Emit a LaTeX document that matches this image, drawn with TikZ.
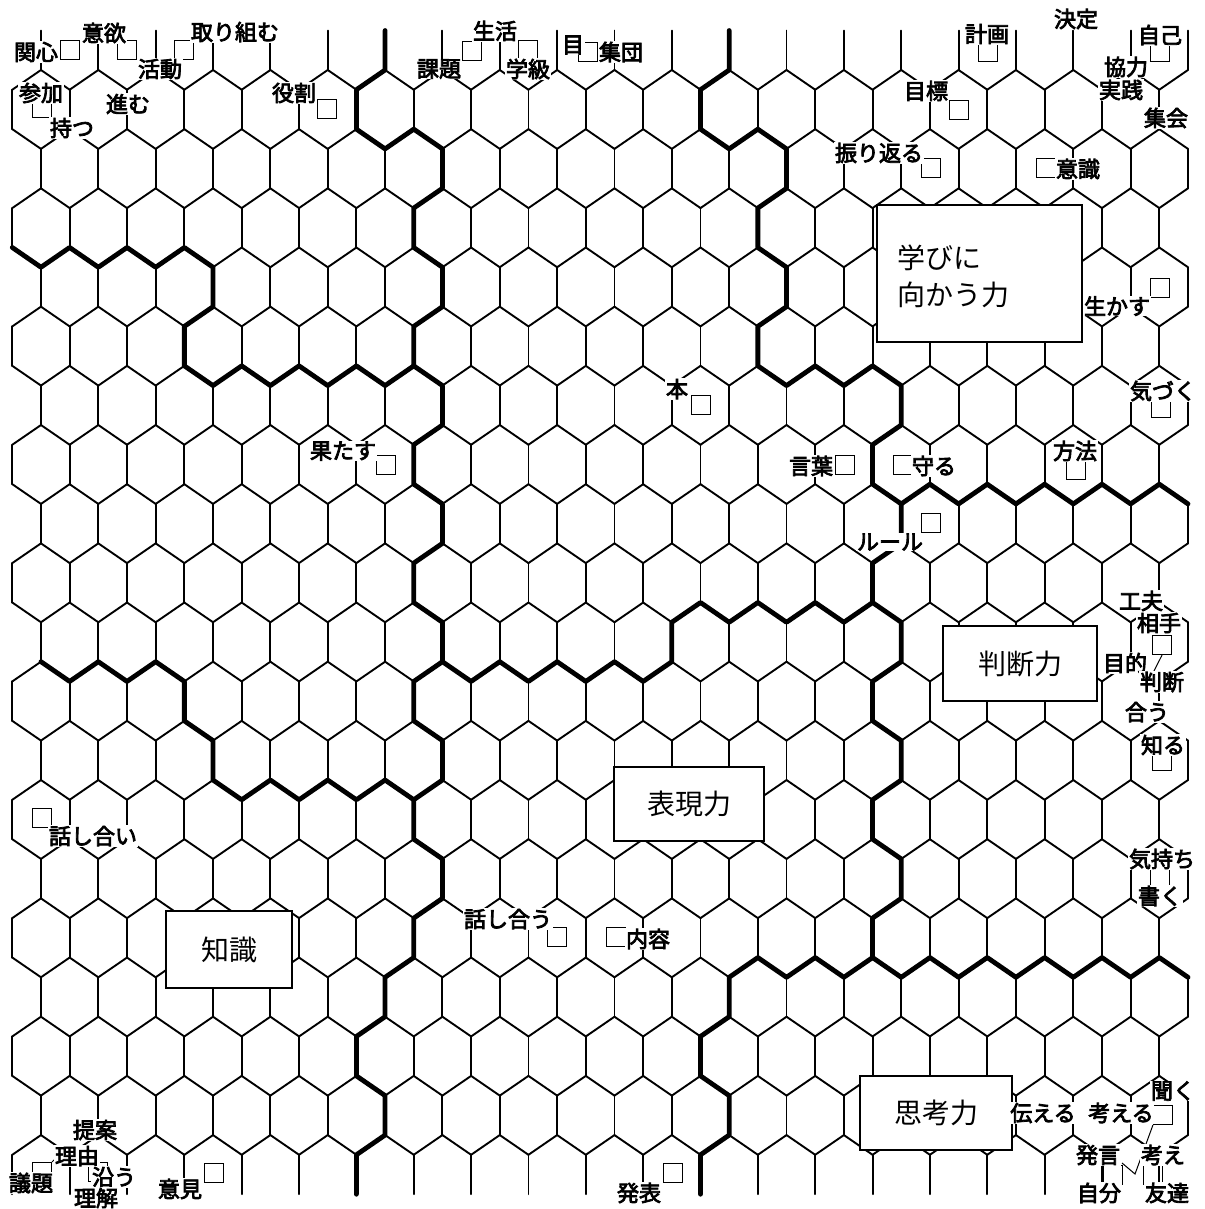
\documentclass[tikz,border=0pt]{standalone}
\usepackage{fontspec}
\usepackage{pdfrender}
\newfontfamily\jp{Noto Sans CJK JP}
\newfontfamily\jpb{Noto Sans CJK JP}[AutoFakeBold=3.5]
\begin{document}
\begin{tikzpicture}[x=0.5pt,y=-0.5pt,
  gridl/.style={line width=0.95pt, line cap=round},
  border/.style={line width=2.4pt, line cap=round, line join=round},
  box/.style={draw, line width=1pt, fill=white, inner sep=0pt},
  boxtext/.style={font=\jp\fontsize{14pt}{18.5pt}\selectfont, inner sep=0pt, align=left},
  lab/.style={font=\jpb\bfseries\fontsize{11pt}{12pt}\selectfont, fill=white, inner sep=0.3pt,
    execute at begin node={\pdfrender{TextRenderingMode=FillStroke,LineWidth=0.45pt}}},
  sq/.style={draw, line width=0.6pt, minimum size=9.5pt, inner sep=0pt},
  lead/.style={line width=0.5pt}]
\path[use as bounding box] (0,0) rectangle (1204,1209);
% lattice vertices
\foreach \r in {0,...,20}{
  \foreach \j in {0,...,41}{
    \coordinate (t-\j-\r) at ({12.3+28.675*\j},{10.83+59.17*\r});
    \coordinate (u-\j-\r) at ({12.3+28.675*\j},{30.55+59.17*\r});
  }
}
% zigzags
\foreach \r in {1,...,19}{
  \pgfmathtruncatemacro\p{mod(\r,2)}
  \foreach \k in {0,...,20}{
    \pgfmathtruncatemacro\j{2*\k+\p}
    \pgfmathtruncatemacro\jl{\j-1}
    \pgfmathtruncatemacro\jr{\j+1}
    \ifnum\j>0 \draw[gridl] (u-\jl-\r) -- (t-\j-\r); \fi
    \ifnum\j<41 \draw[gridl] (t-\j-\r) -- (u-\jr-\r); \fi
  }
}
% verticals
\foreach \r in {0,...,19}{
  \pgfmathtruncatemacro\p{mod(\r+1,2)}
  \pgfmathtruncatemacro\rr{\r+1}
  \foreach \k in {0,...,20}{
    \pgfmathtruncatemacro\j{2*\k+\p}
    \ifnum\j<42 \draw[gridl] (u-\j-\r) -- (t-\j-\rr); \fi
  }
}
% cluster borders
\draw[border] (u-13-0) -- (t-13-1) -- (u-12-1) -- (t-12-2) -- (u-13-2) -- (t-14-2) -- (u-15-2) -- (t-15-3) -- (u-14-3) -- (t-14-4) -- (u-15-4) -- (t-15-5) -- (u-14-5) -- (t-14-6) -- (u-15-6) -- (t-15-7) -- (u-14-7) -- (t-14-8) -- (u-15-8) -- (t-15-9) -- (u-14-9) -- (t-14-10) -- (u-15-10) -- (t-15-11) -- (u-14-11) -- (t-14-12) -- (u-15-12) -- (t-15-13) -- (u-14-13) -- (t-14-14) -- (u-15-14) -- (t-15-15) -- (u-14-15) -- (t-14-16) -- (u-13-16) -- (t-13-17) -- (u-12-17) -- (t-12-18) -- (u-13-18) -- (t-13-19) -- (u-12-19) -- (t-12-20);
\draw[border] (u-25-0) -- (t-25-1) -- (u-24-1) -- (t-24-2) -- (u-25-2) -- (t-26-2) -- (u-27-2) -- (t-27-3) -- (u-26-3) -- (t-26-4) -- (u-27-4) -- (t-27-5) -- (u-26-5) -- (t-26-6) -- (u-27-6) -- (t-28-6) -- (u-29-6) -- (t-30-6) -- (u-31-6) -- (t-31-7) -- (u-30-7) -- (t-30-8) -- (u-31-8) -- (t-31-9) -- (u-30-9) -- (t-30-10) -- (u-31-10) -- (t-31-11) -- (u-30-11) -- (t-30-12) -- (u-31-12) -- (t-31-13) -- (u-30-13) -- (t-30-14) -- (u-31-14) -- (t-31-15) -- (u-30-15) -- (t-30-16) -- (u-29-16) -- (t-28-16) -- (u-27-16) -- (t-26-16) -- (u-25-16) -- (t-25-17) -- (u-24-17) -- (t-24-18) -- (u-25-18) -- (t-25-19) -- (u-24-19) -- (t-24-20);
\draw[border] (t-0-4) -- (u-1-4) -- (t-2-4) -- (u-3-4) -- (t-4-4) -- (u-5-4) -- (t-6-4) -- (u-7-4) -- (t-7-5) -- (u-6-5) -- (t-6-6) -- (u-7-6) -- (t-8-6) -- (u-9-6) -- (t-10-6) -- (u-11-6) -- (t-12-6) -- (u-13-6) -- (t-14-6);
\draw[border] (t-1-11) -- (u-2-11) -- (t-3-11) -- (u-4-11) -- (t-5-11) -- (u-6-11) -- (t-6-12) -- (u-7-12) -- (t-7-13) -- (u-8-13) -- (t-9-13) -- (u-10-13) -- (t-11-13) -- (u-12-13) -- (t-13-13) -- (u-14-13);
\draw[border] (t-15-11) -- (u-16-11) -- (t-17-11) -- (u-18-11) -- (t-19-11) -- (u-20-11) -- (t-21-11) -- (u-22-11) -- (t-23-11) -- (u-23-10) -- (t-24-10) -- (u-25-10) -- (t-26-10) -- (u-27-10) -- (t-28-10) -- (u-29-10) -- (t-30-10);
\draw[border] (u-31-8) -- (t-32-8) -- (u-33-8) -- (t-34-8) -- (u-35-8) -- (t-36-8) -- (u-37-8) -- (t-38-8) -- (u-39-8) -- (t-40-8) -- (u-41-8);
\draw[border] (t-30-16) -- (u-31-16) -- (t-32-16) -- (u-33-16) -- (t-34-16) -- (u-35-16) -- (t-36-16) -- (u-37-16) -- (t-38-16) -- (u-39-16) -- (t-40-16) -- (u-41-16);
% squares
\node[sq] (s1) at (70,50) {};
\node[sq] (s2) at (127,50) {};
\node[sq] (s3) at (184,50) {};
\node[sq] (s4) at (42,108) {};
\node[sq] (s5) at (327,109) {};
\node[sq] (s6) at (472,51) {};
\node[sq] (s7) at (528,50) {};
\node[sq] (s8) at (588,52) {};
\node[sq] (s9) at (931,168) {};
\node[sq] (s10) at (959,110) {};
\node[sq] (s11) at (988,52) {};
\node[sq] (s12) at (1160,52) {};
\node[sq] (s13) at (1046,168) {};
\node[sq] (s14) at (1160,288) {};
\node[sq] (s15) at (701,405) {};
\node[sq] (s16) at (1161,408) {};
\node[sq] (s17) at (386,465) {};
\node[sq] (s18) at (845,465) {};
\node[sq] (s19) at (903,465) {};
\node[sq] (s20) at (931,523) {};
\node[sq] (s21) at (1076,470) {};
\node[sq] (s22) at (1162,645) {};
\node[sq] (s23) at (1162,761) {};
\node[sq] (s24) at (42,818) {};
\node[sq] (s25) at (1160,878) {};
\node[sq] (s26) at (557,937) {};
\node[sq] (s27) at (616,937) {};
\node[sq] (s28) at (42,1172) {};
\node[sq] (s29) at (98,1172) {};
\node[sq] (s30) at (214,1173) {};
\node[sq] (s31) at (673,1173) {};
\node[sq] (s32) at (1163,1115) {};
\node[sq] (s33) at (1113,1175) {};
\node[sq] (s34) at (1153,1175) {};
\coordinate (v1) at (1135,1174);
\coordinate (v2) at (1122,1163);
\coordinate (v3) at (57,1157);
\coordinate (v4) at (1152,675);
\draw[lead] (s32.south west) -- (v1) -- (v2);
\draw[lead] (s28.north east) -- (v3);
\draw[lead] (s22.south) -- (v4);
% boxes
\node[box, minimum width=102.5pt, minimum height=68.5pt] (manabi) at (979.5,273.5) {};
\node[boxtext, anchor=west] (manabit) at (897,276) {学びに\\向かう力};
\node[box, minimum width=77pt, minimum height=37.5pt, font=\jp\fontsize{14pt}{17pt}\selectfont] (handan) at (1020,663.5) {判断力};
\node[box, minimum width=75pt, minimum height=37pt, font=\jp\fontsize{14pt}{17pt}\selectfont] (hyogen) at (689,804) {表現力};
\node[box, minimum width=63pt, minimum height=38.5pt, font=\jp\fontsize{14pt}{17pt}\selectfont] (chishiki) at (229,949.5) {知識};
\node[box, minimum width=76pt, minimum height=37pt, font=\jp\fontsize{14pt}{17pt}\selectfont] (shiko) at (936,1113) {思考力};
% labels
\node[lab] (l1) at (36,52) {関心};
\node[lab] (l2) at (104,33) {意欲};
\node[lab] (l3) at (160,69) {活動};
\node[lab] (l4) at (235,32) {取り組む};
\node[lab] (l5) at (41,93) {参加};
\node[lab] (l6) at (72,128) {持つ};
\node[lab] (l7) at (128,104) {進む};
\node[lab] (l8) at (294,93) {役割};
\node[lab] (l9) at (439,69) {課題};
\node[lab] (l10) at (495,31) {生活};
\node[lab] (l11) at (528,69) {学級};
\node[lab] (l12) at (573,45) {目};
\node[lab] (l13) at (621,52) {集団};
\node[lab] (l14) at (879,153) {振り返る};
\node[lab] (l15) at (926,91) {目標};
\node[lab] (l16) at (987,34) {計画};
\node[lab] (l17) at (1076,19) {決定};
\node[lab] (l18) at (1160,35) {自己};
\node[lab] (l19) at (1126,67) {協力};
\node[lab] (l20) at (1121,90) {実践};
\node[lab] (l21) at (1166,118) {集会};
\node[lab] (l22) at (1078,169) {意識};
\node[lab] (l23) at (1117,306) {生かす};
\node[lab] (l24) at (677,389) {本};
\node[lab] (l25) at (1163,391) {気づく};
\node[lab] (l26) at (343,451) {果たす};
\node[lab] (l27) at (811,466) {言葉};
\node[lab] (l28) at (934,466) {守る};
\node[lab] (l29) at (890,542) {ルール};
\node[lab] (l30) at (1075,451) {方法};
\node[lab] (l31) at (1141,601) {工夫};
\node[lab] (l32) at (1159,623) {相手};
\node[lab] (l33) at (1125,663) {目的};
\node[lab] (l34) at (1162,682) {判断};
\node[lab] (l35) at (1147,712) {合う};
\node[lab] (l36) at (1163,745) {知る};
\node[lab] (l37) at (93,836) {話し合い};
\node[lab] (l38) at (1162,859) {気持ち};
\node[lab] (l39) at (1160,896) {書く};
\node[lab] (l40) at (508,919) {話し合う};
\node[lab] (l41) at (648,939) {内容};
\node[lab] (l42) at (95,1130) {提案};
\node[lab] (l43) at (77,1156) {理由};
\node[lab] (l44) at (31,1183) {議題};
\node[lab] (l45) at (114,1177) {沿う};
\node[lab] (l46) at (96,1198) {理解};
\node[lab] (l47) at (180,1189) {意見};
\node[lab] (l48) at (639,1193) {発表};
\node[lab] (l49) at (1043,1113) {伝える};
\node[lab] (l50) at (1121,1113) {考える};
\node[lab] (l51) at (1173,1091) {聞く};
\node[lab] (l52) at (1098,1155) {発言};
\node[lab] (l53) at (1163,1155) {考え};
\node[lab] (l54) at (1099,1193) {自分};
\node[lab] (l55) at (1167,1193) {友達};
\end{tikzpicture}
\end{document}
